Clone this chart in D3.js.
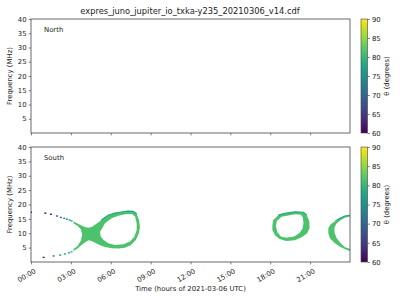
<!DOCTYPE html>
<html><head><meta charset="utf-8">
<script src="https://cdn.jsdelivr.net/npm/d3@7"></script>
<style>
body{margin:0;background:#fff}
svg{display:block}
text{font-family:"DejaVu Sans",sans-serif;fill:#222}
</style>
</head><body>
<svg id="c" width="400" height="300"></svg>
<script>
// ---- data ----
const title = "expres_juno_jupiter_io_txka-y235_20210306_v14.cdf";
const panels = ["North", "South"];
const hourTicks = [0, 3, 6, 9, 12, 15, 18, 21];
const freqTicks = [5, 10, 15, 20, 25, 30, 35, 40];
const thetaTicks = [60, 65, 70, 75, 80, 85, 90];

// South hemisphere emission, [hour, MHz]; body fill theta and edge theta
const bodyTheta = 81.5;
const edgeTheta = 77.5;
const loop1Outer = [[3.2,14.1],[3.5,13.4],[3.8,12.7],[4.1,12.1],[4.35,11.9],[4.6,12.3],[4.9,13.2],[5.2,14.3],[5.5,15.4],[5.8,16.3],[6.3,17.0],[6.8,17.4],[7.3,17.7],[7.7,17.6],[7.95,16.8],[8.13,14.5],[8.2,12.3],[8.12,10.0],[7.9,7.7],[7.5,5.8],[7.07,5.0],[6.57,4.7],[6.07,4.8],[5.57,5.2],[5.2,5.8],[4.9,6.5],[4.6,7.2],[4.35,7.6],[4.1,7.0],[3.8,5.9],[3.5,4.7],[3.2,3.8],[3.2,4.5],[3.5,5.6],[3.75,7.4],[3.85,9.5],[3.75,11.4],[3.5,12.6],[3.2,13.4]];
const loop1Inner = [[5.2,10.5],[5.57,13.5],[6.07,15.2],[6.57,16.1],[7.07,16.6],[7.58,16.7],[7.83,15.8],[7.95,13.5],[7.95,11.1],[7.77,8.8],[7.45,7.1],[6.95,6.2],[6.32,5.9],[5.82,6.5],[5.44,7.7],[5.24,9.0]];
const loop1Edge = [[5.3,14.6],[5.8,16.3],[6.3,17.0],[6.8,17.4],[7.3,17.7],[7.7,17.6],[7.95,16.8]];
const loop2Outer = [[18.16,12.9],[18.23,14.6],[18.6,16.3],[19.1,16.9],[19.86,17.5],[20.5,17.3],[20.74,16.4],[20.94,14.2],[20.96,11.8],[20.78,10.0],[20.4,8.7],[19.86,7.6],[19.2,7.3],[18.7,8.0],[18.36,9.3],[18.16,11.1]];
const loop2Inner = [[18.42,12.5],[18.5,14.3],[18.85,15.7],[19.35,16.2],[19.9,16.6],[20.3,16.4],[20.45,15.5],[20.5,13.5],[20.42,11.6],[20.2,10.1],[19.8,8.9],[19.2,8.4],[18.8,8.9],[18.55,10.3]];
const loop2Edge = [[18.6,16.3],[19.1,16.9],[19.86,17.5],[20.5,17.3],[20.74,16.4]];
const loop3Band = [[24.1,16.3],[23.6,16.0],[23.25,15.2],[22.9,14.3],[22.55,13.1],[22.37,11.7],[22.37,10.0],[22.5,8.2],[22.87,6.5],[23.25,5.3],[23.6,4.5],[24.1,3.7],[24.1,4.3],[23.6,5.2],[23.3,6.5],[23.0,8.3],[22.85,10.0],[22.82,11.7],[22.95,13.2],[23.25,14.4],[23.6,15.4],[24.1,15.9]];
const loop3Edge = [[22.9,14.3],[23.25,15.2],[23.6,16.0],[24.1,16.3]];
// sparse tails: [hour, MHz, theta]
const tailUpper = [[0.0,17.3,60],[1.08,17.0,61],[1.5,16.6,63],[1.95,16.0,67],[2.25,15.5,70],[2.5,15.2,73],[2.7,14.9,75],[2.9,14.6,76],[3.05,14.3,78]];
const tailLower = [[0.95,1.6,63],[1.7,2.1,72],[2.2,2.4,75],[2.55,2.8,77],[2.85,3.2,78],[3.05,3.5,79]];

// ---- layout ----
const svg = d3.select("#c");
const L = 31, R = 350;
const panelBox = [{top:19,bottom:133},{top:147,bottom:262}];
const cbX = 361, cbW = 6.5;

const x = d3.scaleLinear().domain([0,24]).range([L,R]);
const color = d3.scaleSequential(d3.interpolateViridis).domain([60,90]);
const fmt = h => d3.format("02d")(h) + ":00";

svg.append("text").attr("x",190).attr("y",14).attr("text-anchor","middle")
  .style("font-size","8.3px").text(title);

// gradient
const defs = svg.append("defs");
const grad = defs.append("linearGradient").attr("id","vir").attr("x1",0).attr("y1",1).attr("x2",0).attr("y2",0);
d3.range(0,1.0001,0.05).forEach(t=>grad.append("stop").attr("offset",t).attr("stop-color",d3.interpolateViridis(t)));

panelBox.forEach((b,i)=>{
  const y = d3.scaleLinear().domain([0,40]).range([b.bottom,b.top]);
  const g = svg.append("g");
  defs.append("clipPath").attr("id","clip"+i).append("rect")
    .attr("x",L).attr("y",b.top).attr("width",R-L).attr("height",b.bottom-b.top);
  const plot = g.append("g").attr("clip-path",`url(#clip${i})`);

  if(i===1){
    const line = d3.line().x(d=>x(d[0])).y(d=>y(d[1]));
    const ring = pts => line(pts) + "Z";
    plot.append("path").attr("d", ring(loop1Outer)+ring(loop1Inner))
      .attr("fill",color(bodyTheta)).attr("fill-rule","evenodd");
    plot.append("path").attr("d", ring(loop2Outer)+ring(loop2Inner))
      .attr("fill",color(bodyTheta)).attr("fill-rule","evenodd");
    plot.append("path").attr("d", ring(loop3Band))
      .attr("fill",color(bodyTheta));
    [loop1Edge, loop2Edge, loop3Edge].forEach(e=>{
      plot.append("path").attr("d", line(e))
        .attr("fill","none").attr("stroke",color(edgeTheta)).attr("stroke-width",1.1);
    });
    plot.selectAll("rect.tail").data(tailUpper.concat(tailLower)).join("rect")
      .attr("class","tail")
      .attr("x",d=>x(d[0])-1).attr("y",d=>y(d[1])-0.7)
      .attr("width",2).attr("height",1.4)
      .attr("fill",d=>color(d[2]));
  }

  // axes
  const yAxis = d3.axisLeft(y).tickValues(freqTicks).tickSize(2.4).tickPadding(2);
  const ya = g.append("g").attr("transform",`translate(${L},0)`).call(yAxis);
  const xAxis = d3.axisBottom(x).tickValues(hourTicks).tickSize(2.4).tickPadding(2).tickFormat(i===1?fmt:"");
  const xa = g.append("g").attr("transform",`translate(0,${b.bottom})`).call(xAxis);
  [ya,xa].forEach(a=>{
    a.select(".domain").remove();
    a.selectAll("line").attr("stroke","#333").attr("stroke-width",0.6);
    a.selectAll("text").style("font-size","6.9px").attr("fill","#222").style("font-family","DejaVu Sans");
  });
  if(i===1){
    xa.selectAll("text").attr("text-anchor","end").attr("dy",null)
      .attr("transform","translate(0,2) rotate(-30)").attr("y",5).attr("x",0)
      .attr("dominant-baseline","hanging");
  }
  g.append("rect").attr("x",L).attr("y",b.top).attr("width",R-L).attr("height",b.bottom-b.top)
    .attr("fill","none").attr("stroke","#444").attr("stroke-width",0.8);

  g.append("text").attr("x",L+13).attr("y",b.top+12.5).style("font-size","6.9px").text(panels[i]);
  g.append("text").attr("transform",`translate(12,${(b.top+b.bottom)/2}) rotate(-90)`)
    .attr("text-anchor","middle").style("font-size","6.9px").text("Frequency (MHz)");

  // colorbar
  const cy = d3.scaleLinear().domain([60,90]).range([b.bottom,b.top]);
  g.append("rect").attr("x",cbX).attr("y",b.top).attr("width",cbW).attr("height",b.bottom-b.top)
    .attr("fill","url(#vir)").attr("stroke","#444").attr("stroke-width",0.6);
  const ca = g.append("g").attr("transform",`translate(${cbX+cbW},0)`)
    .call(d3.axisRight(cy).tickValues(thetaTicks).tickSize(2.4).tickPadding(2));
  ca.select(".domain").remove();
  ca.selectAll("line").attr("stroke","#333").attr("stroke-width",0.6);
  ca.selectAll("text").style("font-size","6.9px").attr("fill","#222").style("font-family","DejaVu Sans");
  g.append("text").attr("transform",`translate(389,${(b.top+b.bottom)/2}) rotate(-90)`)
    .attr("text-anchor","middle").style("font-size","6.9px").text("θ (degrees)");
});

svg.append("text").attr("x",190.5).attr("y",291).attr("text-anchor","middle")
  .style("font-size","6.9px").text("Time (hours of 2021-03-06 UTC)");
</script>
</body></html>
